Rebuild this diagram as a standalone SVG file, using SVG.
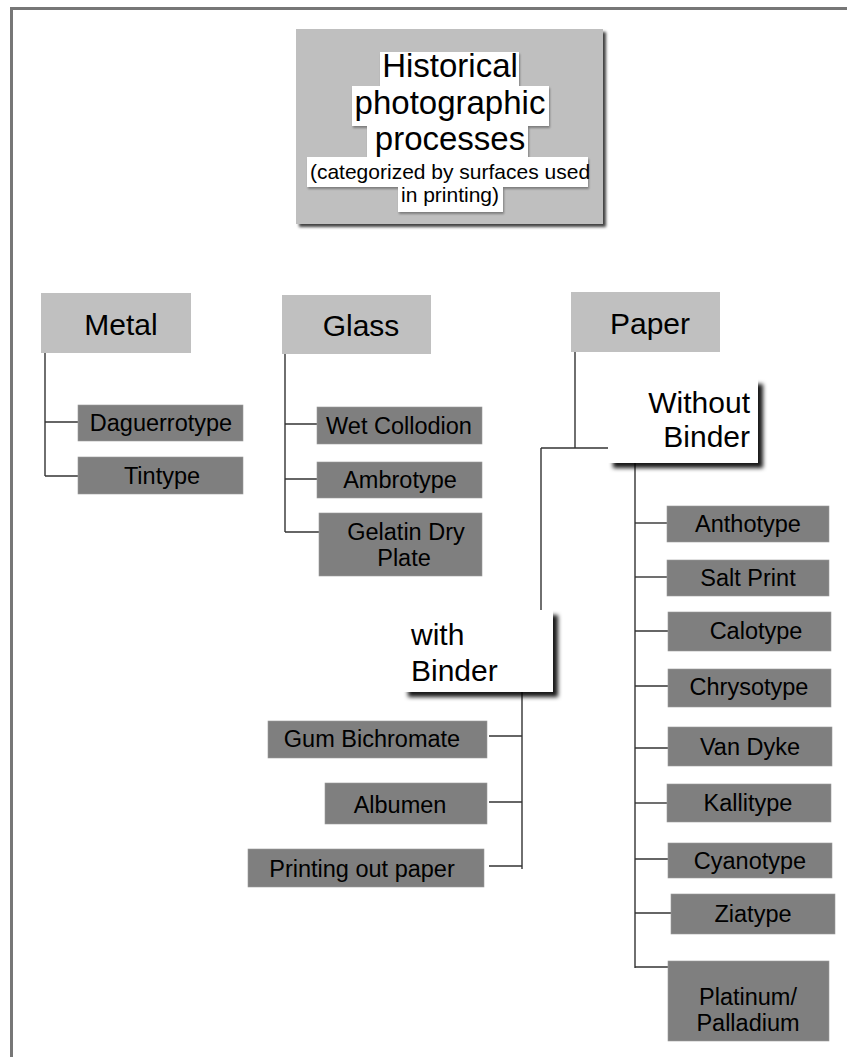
<svg xmlns="http://www.w3.org/2000/svg" width="847" height="1057" viewBox="0 0 847 1057">
<defs>
<filter id="sh1" x="-10%" y="-10%" width="130%" height="130%"><feDropShadow dx="3" dy="3" stdDeviation="1.5" flood-color="#000" flood-opacity="0.75"/></filter>
<filter id="sh2" x="-10%" y="-10%" width="130%" height="130%"><feDropShadow dx="5" dy="5" stdDeviation="2" flood-color="#000" flood-opacity="0.9"/></filter>
<filter id="tsh" x="-10%" y="-10%" width="130%" height="140%"><feDropShadow dx="1" dy="2" stdDeviation="1.2" flood-color="#000" flood-opacity="0.35"/></filter>
</defs>
<style>
text{font-family:"Liberation Sans",Arial,sans-serif;fill:#000;}
.cat{fill:#c0c0c0;}
.leaf{fill:#7f7f7f;stroke:#9a9a9a;stroke-width:0.6;}
.sub{fill:#fff;}
.hl{fill:#fff;}
.big{font-size:30px;text-anchor:middle;}
.lf{font-size:23.5px;text-anchor:middle;}
.conn line{stroke:#333;stroke-width:1.4;}
</style>
<rect x="0" y="0" width="847" height="1057" fill="#fff"/>
<rect x="10" y="7" width="837" height="3" fill="#777"/>
<rect x="10" y="7" width="3" height="1050" fill="#777"/>

<g id="title">
<rect x="296" y="29" width="307" height="195" fill="#bfbfbf" filter="url(#sh1)"/>
<g filter="url(#tsh)">
<rect class="hl" x="380" y="52" width="139" height="34"/>
<rect class="hl" x="352" y="86" width="197" height="40"/>
<rect class="hl" x="367" y="126" width="161" height="31"/>
<rect class="hl" x="307" y="157" width="281" height="30"/>
<rect class="hl" x="398" y="187" width="105" height="25"/>
</g>
<text x="450" y="77" font-size="33" text-anchor="middle">Historical</text>
<text x="450" y="114" font-size="33" text-anchor="middle">photographic</text>
<text x="450" y="150" font-size="33" text-anchor="middle">processes</text>
<text x="450" y="179" font-size="21" text-anchor="middle">(categorized by surfaces used</text>
<text x="450" y="202" font-size="21" text-anchor="middle">in printing)</text>
</g>

<g class="conn" id="connectors">
<line x1="45" y1="353" x2="45" y2="476"/>
<line x1="45" y1="422" x2="79" y2="422"/>
<line x1="45" y1="476" x2="79" y2="476"/>
<line x1="285" y1="354" x2="285" y2="532"/>
<line x1="285" y1="424" x2="318" y2="424"/>
<line x1="285" y1="479" x2="318" y2="479"/>
<line x1="285" y1="532" x2="320" y2="532"/>
<line x1="575" y1="352" x2="575" y2="448"/>
<line x1="541" y1="448" x2="608" y2="448"/>
<line x1="541" y1="448" x2="541" y2="610"/>
<line x1="635" y1="463" x2="635" y2="968"/>
<line x1="635" y1="523" x2="667" y2="523"/>
<line x1="635" y1="577" x2="667" y2="577"/>
<line x1="635" y1="631" x2="668" y2="631"/>
<line x1="635" y1="686" x2="668" y2="686"/>
<line x1="635" y1="748" x2="668" y2="748"/>
<line x1="635" y1="803" x2="667" y2="803"/>
<line x1="635" y1="859" x2="668" y2="859"/>
<line x1="635" y1="913" x2="671" y2="913"/>
<line x1="635" y1="967" x2="668" y2="967"/>
<line x1="522" y1="692" x2="522" y2="869"/>
<line x1="489" y1="736" x2="522" y2="736"/>
<line x1="489" y1="802" x2="522" y2="802"/>
<line x1="489" y1="866" x2="522" y2="866"/>
</g>

<g id="metal"><rect class="cat" x="41" y="293" width="150" height="60"/><text class="big" x="121" y="335">Metal</text></g>
<g id="glass"><rect class="cat" x="282" y="295" width="149" height="59"/><text class="big" x="361" y="336">Glass</text></g>
<g id="paper"><rect class="cat" x="571" y="292" width="149" height="60"/><text class="big" x="650" y="334">Paper</text></g>

<g id="daguerrotype"><rect class="leaf" x="78" y="405" width="165" height="36"/><text class="lf" x="161" y="431">Daguerrotype</text></g>
<g id="tintype"><rect class="leaf" x="78" y="457" width="165" height="37"/><text class="lf" x="162" y="484">Tintype</text></g>

<g id="wet-collodion"><rect class="leaf" x="317" y="407" width="165" height="37"/><text class="lf" x="399" y="434">Wet Collodion</text></g>
<g id="ambrotype"><rect class="leaf" x="317" y="462" width="165" height="36"/><text class="lf" x="400" y="488">Ambrotype</text></g>
<g id="gelatin-dry-plate"><rect class="leaf" x="319" y="513" width="163" height="63"/><text class="lf" x="406" y="540">Gelatin Dry</text><text class="lf" x="404" y="566">Plate</text></g>

<g id="without-binder"><rect class="sub" x="608" y="379" width="150" height="84" filter="url(#sh2)"/><text x="750" y="413" font-size="30" text-anchor="end">Without</text><text x="750" y="447" font-size="30" text-anchor="end">Binder</text></g>
<g id="with-binder"><rect class="sub" x="403" y="610" width="150" height="82" filter="url(#sh2)"/><text x="411" y="645" font-size="30">with</text><text x="411" y="681" font-size="30">Binder</text></g>

<g id="anthotype"><rect class="leaf" x="667" y="506" width="162" height="36"/><text class="lf" x="748" y="532">Anthotype</text></g>
<g id="salt-print"><rect class="leaf" x="667" y="560" width="162" height="36"/><text class="lf" x="748" y="586">Salt Print</text></g>
<g id="calotype"><rect class="leaf" x="668" y="612" width="163" height="39"/><text class="lf" x="756" y="639">Calotype</text></g>
<g id="chrysotype"><rect class="leaf" x="668" y="669" width="163" height="38"/><text class="lf" x="749" y="695">Chrysotype</text></g>
<g id="van-dyke"><rect class="leaf" x="668" y="727" width="164" height="39"/><text class="lf" x="750" y="755">Van Dyke</text></g>
<g id="kallitype"><rect class="leaf" x="667" y="784" width="164" height="38"/><text class="lf" x="748" y="811">Kallitype</text></g>
<g id="cyanotype"><rect class="leaf" x="668" y="843" width="164" height="35"/><text class="lf" x="750" y="869">Cyanotype</text></g>
<g id="ziatype"><rect class="leaf" x="671" y="894" width="164" height="40"/><text class="lf" x="753" y="922">Ziatype</text></g>
<g id="platinum-palladium"><rect class="leaf" x="668" y="961" width="161" height="80"/><text class="lf" x="748" y="1005">Platinum/</text><text class="lf" x="748" y="1031">Palladium</text></g>

<g id="gum-bichromate"><rect class="leaf" x="268" y="721" width="219" height="37"/><text class="lf" x="372" y="747">Gum Bichromate</text></g>
<g id="albumen"><rect class="leaf" x="325" y="783" width="162" height="41"/><text class="lf" x="400" y="813">Albumen</text></g>
<g id="printing-out-paper"><rect class="leaf" x="248" y="849" width="236" height="38"/><text class="lf" x="362" y="877">Printing out paper</text></g>
</svg>
